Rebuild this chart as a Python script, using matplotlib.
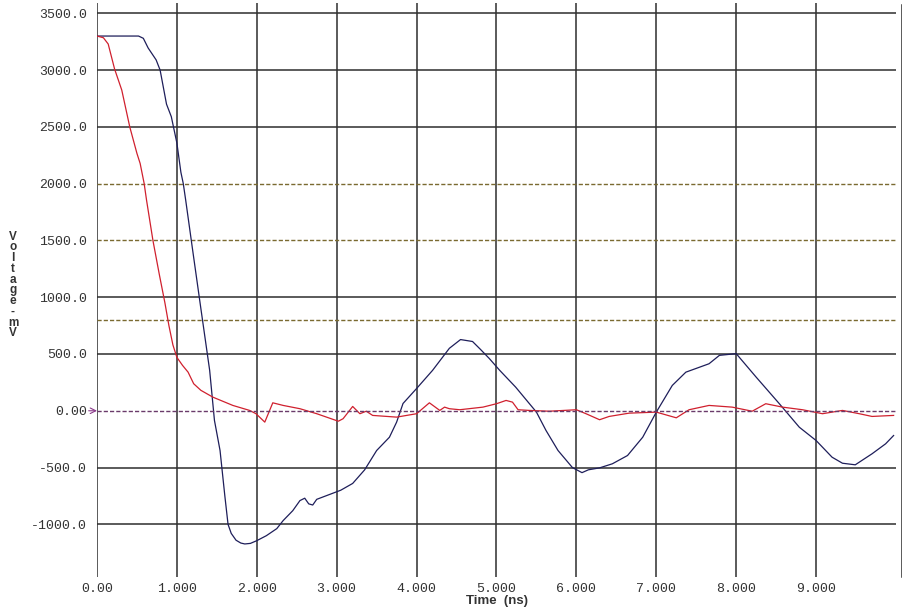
import matplotlib
matplotlib.use("Agg")
import matplotlib.pyplot as plt
from matplotlib.lines import Line2D

# ---- data (time in ns, voltage in mV) ----
blue_t = [0, 0.52, 0.58, 0.64, 0.74, 0.79, 0.87, 0.93, 1.0, 1.05, 1.08, 1.11, 1.2, 1.3,
          1.41, 1.47, 1.54, 1.6, 1.64, 1.68, 1.74, 1.8, 1.85, 1.92, 2.0, 2.12, 2.25, 2.33,
          2.45, 2.54, 2.6, 2.65, 2.7, 2.75, 2.9, 3.05, 3.2, 3.35, 3.5, 3.66, 3.75, 3.83,
          4.0, 4.2, 4.41, 4.55, 4.7, 4.8, 4.91, 5.04, 5.24, 5.41, 5.5, 5.62, 5.77, 5.95,
          6.07, 6.15, 6.29, 6.45, 6.64, 6.83, 7.0, 7.2, 7.37, 7.66, 7.79, 8.0, 8.25, 8.54,
          8.79, 9.0, 9.2, 9.33, 9.49, 9.7, 9.87, 9.97]
blue_v = [3300, 3300, 3280, 3195, 3090, 3000, 2700, 2590, 2357, 2100, 2000, 1855, 1400, 900,
          356, -85, -350, -750, -1000, -1080, -1140, -1165, -1173, -1168, -1144, -1100, -1038,
          -967, -880, -791, -770, -820, -830, -780, -740, -700, -640, -520, -350, -233, -100,
          64, 196, 356, 550, 627, 610, 540, 460, 356, 208, 64, -12, -174, -350, -500,
          -545, -520, -503, -467, -394, -233, -12, 223, 340, 414, 488, 503, 296, 62,
          -145, -262, -409, -462, -476, -379, -291, -218]

red_t = [0, 0.08, 0.14, 0.22, 0.31, 0.41, 0.5, 0.54, 0.59, 0.62, 0.7, 0.78, 0.85, 0.9, 0.95,
         1.0, 1.07, 1.14, 1.21, 1.3, 1.45, 1.7, 1.91, 1.99, 2.1, 2.2, 2.33, 2.54, 2.75,
         3.02, 3.08, 3.2, 3.29, 3.37, 3.45, 3.75, 4.0, 4.16, 4.29, 4.35, 4.41, 4.54,
         4.83, 5.0, 5.12, 5.2, 5.27, 5.41, 5.66, 6.0, 6.12, 6.29, 6.41, 6.66, 7.0, 7.25,
         7.41, 7.66, 7.95, 8.2, 8.37, 8.58, 8.83, 9.08, 9.33, 9.54, 9.7, 9.97]
red_v = [3300, 3285, 3230, 3010, 2824, 2500, 2266, 2178, 2002, 1855, 1500, 1200, 950, 750, 580,
         470, 400, 340, 238, 180, 120, 47, 3, -26, -100, 70, 47, 18, -26,
         -92, -70, 38, -26, -4, -41, -56, -26, 70, 3, 32, 18, 9,
         32, 62, 91, 76, 9, 3, -4, 9, -26, -79, -50, -21, -12, -62,
         9, 47, 32, -4, 62, 32, 9, -26, 3, -26, -50, -41]

x_ticks = [0, 1, 2, 3, 4, 5, 6, 7, 8, 9]
x_labels = ["0.00", "1.000", "2.000", "3.000", "4.000", "5.000", "6.000", "7.000", "8.000", "9.000"]
y_ticks = [3500, 3000, 2500, 2000, 1500, 1000, 500, 0, -500, -1000]
y_labels = ["3500.0", "3000.0", "2500.0", "2000.0", "1500.0", "1000.0", "500.0", "0.00", "-500.0", "-1000.0"]
dashed_levels = [2000, 1500, 800]
ylabel_chars = ["V", "o", "l", "t", "a", "g", "e", "-", "m", "V"]

# ---- figure ----
W, H = 903, 610
fig = plt.figure(figsize=(W / 100, H / 100), dpi=100)
ax = fig.add_axes([97 / W, (H - 577) / H, 799 / W, 574 / H])
ax.set_xlim(0, 10)
ax.set_ylim(-1464, 3591)
for s in ax.spines.values():
    s.set_visible(False)

grid_c = "#2e2e2e"
for t in x_ticks:
    ax.axvline(t, color=grid_c, lw=1.1, zorder=1)
for v in y_ticks:
    if v in dashed_levels:
        continue
    if v == 0:
        ax.axhline(v, color="#6a3a6a", lw=1.0, ls=(0, (3, 1.5)), zorder=3)
    else:
        ax.axhline(v, color=grid_c, lw=1.1, zorder=1)
for v in dashed_levels:
    ax.axhline(v, color="#7a6a30", lw=1.0, ls=(0, (3, 1.5)), zorder=1)

ax.plot(blue_t, blue_v, color="#1e1e5a", lw=0.9, zorder=2)
ax.plot(red_t, red_v, color="#d0202e", lw=0.9, zorder=2)

mono = "Liberation Mono"
ax.set_xticks(x_ticks)
ax.set_xticklabels(x_labels, fontfamily=mono, fontsize=9.5, color="#333333")
ax.set_yticks(y_ticks)
ax.set_yticklabels(y_labels, fontfamily=mono, fontsize=9.5, color="#333333")
ax.tick_params(axis="x", length=0, pad=4)
ax.tick_params(axis="y", length=0, pad=7)

# small arrow at the zero level
ax.annotate("", xy=(0, 0), xycoords=("axes fraction", "data"),
            xytext=(-6, 0), textcoords="offset points",
            arrowprops=dict(arrowstyle="->", color="#8a3a8a", lw=0.8, shrinkA=0, shrinkB=0),
            annotation_clip=False)

# right border line
fig.add_artist(Line2D([902 / W, 902 / W], [(H - 5) / H, (H - 577) / H],
                      color=grid_c, lw=1.1, transform=fig.transFigure))

fig.text(497 / W, 1 - 601 / H, "Time  (ns)", ha="center", va="center",
         fontfamily="Liberation Sans", fontweight="bold", fontsize=9.5, color="#333333")

# stacked vertical axis title (one multi-line text)
fig.text(13 / W, 1 - 285 / H, "\n".join(ylabel_chars), ha="center", va="center",
         multialignment="center", fontfamily="Liberation Sans", fontweight="bold",
         fontsize=8.5, color="#333333", linespacing=0.86)

fig.savefig("out.png", dpi=100, facecolor="white")
